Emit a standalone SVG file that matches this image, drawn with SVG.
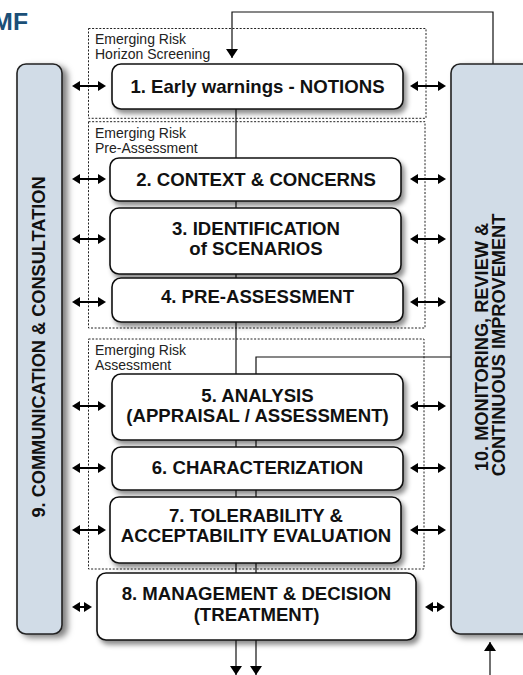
<svg xmlns="http://www.w3.org/2000/svg" width="523" height="675" viewBox="0 0 523 675">
<defs>
<style>
.box{fill:#fff;stroke:#111;stroke-width:1.6}
.bar{fill:#d1dce7;stroke:#222;stroke-width:1.6}
.zone{fill:none;stroke:#222;stroke-width:1;stroke-dasharray:2,1.6}
.lbl{font-family:"Liberation Sans",Arial,sans-serif;font-size:14px;fill:#222}
.t{font-family:"Liberation Sans",Arial,sans-serif;font-weight:bold;font-size:18.6px;fill:#111;text-anchor:middle}
.bt{font-family:"Liberation Sans",Arial,sans-serif;font-weight:bold;font-size:18.2px;fill:#111;text-anchor:middle}
.dbl{fill:none;stroke:#000;stroke-width:2;marker-start:url(#ah);marker-end:url(#ah)}
.conA{fill:none;stroke:#111;stroke-width:1.2;marker-end:url(#th)}
</style>
<filter id="sh" x="-10%" y="-20%" width="130%" height="160%">
<feDropShadow dx="3" dy="4" stdDeviation="2.5" flood-color="#000" flood-opacity="0.45"/>
</filter>
<filter id="shb" x="-30%" y="-5%" width="160%" height="115%">
<feDropShadow dx="5" dy="3" stdDeviation="3" flood-color="#000" flood-opacity="0.5"/>
</filter>
<marker id="ah" viewBox="0 0 8 10" refX="4" refY="5" markerWidth="8" markerHeight="10" markerUnits="userSpaceOnUse" orient="auto-start-reverse">
<path d="M0,0 L8,5 L0,10 Z" fill="#000"/>
</marker>
<marker id="th" viewBox="0 0 9 12" refX="9" refY="6" markerWidth="9" markerHeight="12" markerUnits="userSpaceOnUse" orient="auto">
<path d="M0,0 L9,6 L0,12 Z" fill="#000"/>
</marker>
</defs>
<rect width="523" height="675" fill="#fff"/>

<text x="28" y="30" font-family="Liberation Sans,Arial,sans-serif" font-weight="bold" font-size="24.7" fill="#1b4f77" text-anchor="end">MF</text>

<g id="zone-horizon">
<rect class="zone" x="88.5" y="28.5" width="337.5" height="89.8"/>
<text class="lbl" x="95" y="43.5">Emerging Risk</text>
<text class="lbl" x="95" y="58.5">Horizon Screening</text>
</g>
<g id="zone-pre">
<rect class="zone" x="88.5" y="121.7" width="336.5" height="206.3"/>
<text class="lbl" x="95" y="138">Emerging Risk</text>
<text class="lbl" x="95" y="152.5">Pre-Assessment</text>
</g>
<g id="zone-assess">
<rect class="zone" x="88.5" y="339" width="335.5" height="230"/>
<text class="lbl" x="95" y="354.5">Emerging Risk</text>
<text class="lbl" x="95" y="369.5">Assessment</text>
</g>

<g id="connectors">
<path class="conA" d="M493,64 V12 H232 V58"/>
<path class="conA" d="M236,109 V675"/>
<path class="conA" d="M451,357 H256 V675"/>
<path class="conA" d="M490,675 V642"/>
<path class="dbl" d="M76,86 H102"/>
<path class="dbl" d="M414,86 H442"/>
<path class="dbl" d="M76,179 H102"/>
<path class="dbl" d="M414,179 H442"/>
<path class="dbl" d="M76,239 H102"/>
<path class="dbl" d="M414,239 H442"/>
<path class="dbl" d="M76,302 H102"/>
<path class="dbl" d="M414,302 H442"/>
<path class="dbl" d="M76,406 H102"/>
<path class="dbl" d="M414,406 H442"/>
<path class="dbl" d="M76,468 H102"/>
<path class="dbl" d="M414,468 H442"/>
<path class="dbl" d="M76,530 H102"/>
<path class="dbl" d="M414,530 H442"/>
<path class="dbl" d="M76,607 H88"/>
<path class="dbl" d="M429,607 H441"/>
</g>

<g id="node-9">
<rect class="bar" x="17" y="64" width="45" height="570" rx="9" filter="url(#shb)"/>
<text class="bt" font-size="18.5" transform="translate(45,347) rotate(-90)">9. COMMUNICATION &amp; CONSULTATION</text>
</g>
<g id="node-10">
<rect class="bar" x="451" y="64" width="110" height="570" rx="9" filter="url(#shb)"/>
<text class="bt" transform="translate(487.5,347) rotate(-90)">10. MONITORING, REVIEW &amp;</text>
<text class="bt" transform="translate(505,345) rotate(-90)">CONTINUOUS IMPROVEMENT</text>
</g>

<g id="node-1">
<rect class="box" x="112" y="64" width="291" height="45" rx="9" filter="url(#sh)"/>
<text class="t" x="257.5" y="92.5">1. Early warnings - NOTIONS</text>
</g>
<g id="node-2">
<rect class="box" x="110" y="158" width="291" height="43" rx="9" filter="url(#sh)"/>
<text class="t" x="256" y="185.5">2. CONTEXT &amp; CONCERNS</text>
</g>
<g id="node-3">
<rect class="box" x="110" y="208" width="291" height="66" rx="9" filter="url(#sh)"/>
<text class="t" x="256" y="235">3. IDENTIFICATION</text>
<text class="t" x="256" y="255">of SCENARIOS</text>
</g>
<g id="node-4">
<rect class="box" x="112" y="278" width="291" height="44" rx="9" filter="url(#sh)"/>
<text class="t" x="257.5" y="303">4. PRE-ASSESSMENT</text>
</g>
<g id="node-5">
<rect class="box" x="112" y="374" width="291" height="66" rx="9" filter="url(#sh)"/>
<text class="t" x="257.5" y="402">5. ANALYSIS</text>
<text class="t" x="257.5" y="422">(APPRAISAL / ASSESSMENT)</text>
</g>
<g id="node-6">
<rect class="box" x="112" y="447" width="291" height="43" rx="9" filter="url(#sh)"/>
<text class="t" x="257.5" y="473.5">6. CHARACTERIZATION</text>
</g>
<g id="node-7">
<rect class="box" x="110" y="497" width="291" height="66" rx="9" filter="url(#sh)"/>
<text class="t" x="256" y="522">7. TOLERABILITY &amp;</text>
<text class="t" x="256" y="542">ACCEPTABILITY EVALUATION</text>
</g>
<g id="node-8">
<rect class="box" x="97" y="573" width="319" height="67" rx="9" filter="url(#sh)"/>
<text class="t" x="256.5" y="599.5">8. MANAGEMENT &amp; DECISION</text>
<text class="t" x="256.5" y="621">(TREATMENT)</text>
</g>
</svg>
